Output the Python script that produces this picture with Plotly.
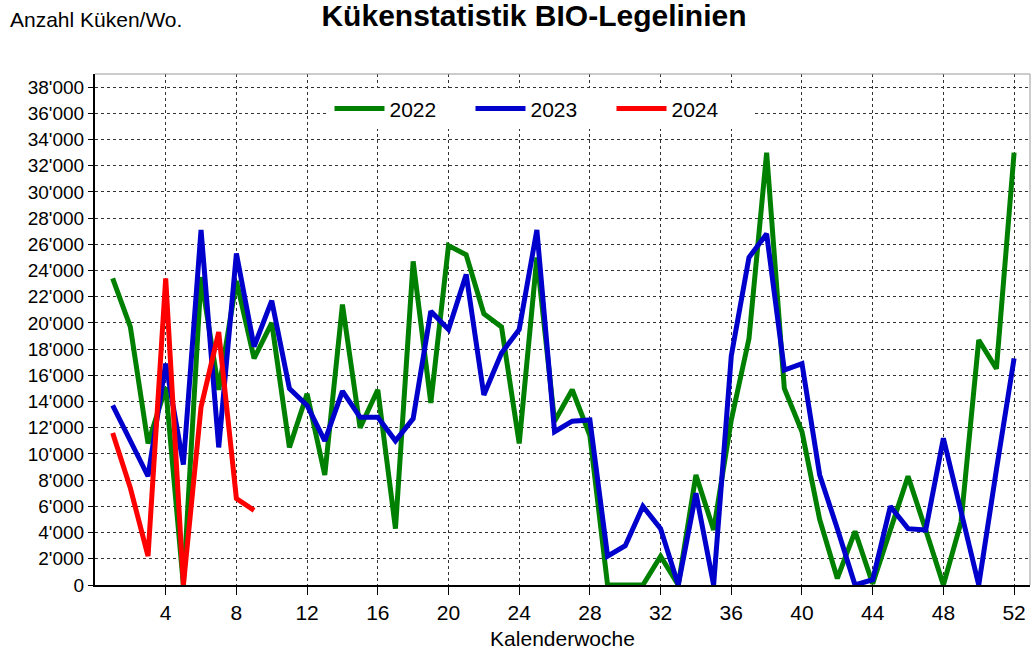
import plotly.graph_objects as go

weeks = list(range(1, 53))
weeks_2024 = list(range(1, 10))

kw2022 = [23400, 19700, 10800, 15100, 0, 23500, 14900, 23200, 17300, 20000,
          10500, 14600, 8400, 21400, 12000, 14900, 4300, 24700, 13900, 25900,
          25200, 20700, 19700, 10800, 25000, 12500, 14900, 11400, 0, 0,
          0, 2200, 0, 8400, 4200, 12600, 18800, 33000, 15000, 11700,
          5000, 500, 4100, 100, 4200, 8300, 4200, 0, 4800, 18700,
          16500, 33000]

kw2023 = [13700, 10900, 8300, 16900, 9200, 27100, 10500, 25300, 18200, 21700,
          15000, 13700, 11000, 14800, 12800, 12800, 11000, 12700, 20900, 19500,
          23700, 14500, 17700, 19500, 27100, 11700, 12500, 12600, 2200, 3000,
          6000, 4300, 0, 7000, 0, 17500, 25000, 26800, 16400, 16900,
          8400, 4300, 0, 400, 6000, 4300, 4200, 11200, 5700, 0,
          8800, 17300]

kw2024 = [11600, 7400, 2200, 23400, 0, 13600, 19300, 6600, 5700]

series_names = ["2022", "2023", "2024"]
series_colors = ["#008000", "#0000CC", "#FF0000"]

x_ticks = list(range(4, 53, 4))
y_ticks = list(range(0, 38001, 2000))

FONT = "Arial, 'Liberation Sans', sans-serif"

fig = go.Figure()
for name, xs, ys, col in zip(series_names, [weeks, weeks, weeks_2024],
                             [kw2022, kw2023, kw2024], series_colors):
    fig.add_trace(go.Scatter(x=xs, y=ys, mode="lines", name=name,
                             line=dict(color=col, width=5),
                             hoverinfo="x+y"))

W, H = 1032, 651
ML, MR, MT, MB = 95, 2, 74, 66
PW = W - ML - MR
PH = H - MT - MB

fig.update_layout(
    width=W, height=H,
    margin=dict(l=ML, r=MR, t=MT, b=MB, autoexpand=False),
    paper_bgcolor="white", plot_bgcolor="white",
    separators=".'",
    font=dict(family=FONT, size=18, color="black"),
    showlegend=True,
    legend=dict(orientation="h", x=0.477, y=0.972, xanchor="center", yanchor="top",
                bgcolor="white", font=dict(size=21, family=FONT),
                entrywidth=76, entrywidthmode="pixels", itemwidth=50,
                tracegroupgap=0),
    xaxis=dict(range=[0, 52.9], tickvals=x_ticks, ticks="outside", ticklen=8,
               tickcolor="black", tickwidth=1, automargin=False,
               showgrid=True, gridcolor="#333", griddash="dot", gridwidth=1,
               showline=True, linecolor="black", linewidth=2, zeroline=False,
               tickfont=dict(size=21),
               title=dict(text="Kalenderwoche", font=dict(size=21), standoff=8)),
    yaxis=dict(range=[0, 39000], tickvals=y_ticks, tickformat=",d", ticks="outside",
               ticklen=5, tickcolor="black", automargin=False,
               showgrid=True, gridcolor="#333", griddash="dot", gridwidth=1,
               showline=True, linecolor="black", linewidth=2, zeroline=False,
               tickfont=dict(size=19)),
    title=dict(text="<b>Kükenstatistik BIO-Legelinien</b>", x=534 / W, xanchor="center",
               y=1 - 15 / H, yanchor="middle", automargin=False,
               font=dict(size=30, family=FONT)),
    shapes=[dict(type="line", xref="paper", yref="paper", x0=0, x1=1, y0=1, y1=1,
                 line=dict(color="#999", width=1)),
            dict(type="line", xref="paper", yref="paper", x0=1, x1=1, y0=0, y1=1,
                 line=dict(color="#999", width=1))],
    annotations=[dict(text="Anzahl Küken/Wo.", xref="paper", yref="paper",
                      x=-87 / PW, y=1 + 54 / PH, xanchor="left", yanchor="middle",
                      showarrow=False, font=dict(size=21, family=FONT))],
)

# remove the default 8px body margin so the figure sits at the page origin
fig.write_html("out.html", config={"displayModeBar": False},
               post_script="document.body.style.margin='0';document.body.style.overflow='hidden';")
